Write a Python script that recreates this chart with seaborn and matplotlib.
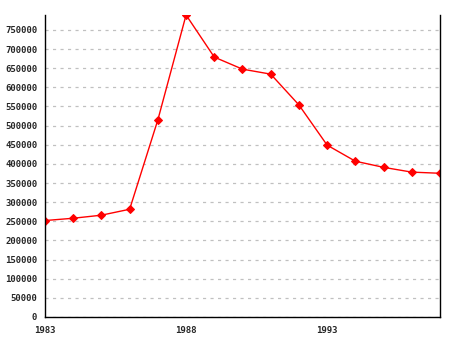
import matplotlib
matplotlib.use("Agg")
import matplotlib.pyplot as plt
import seaborn as sns
import pandas as pd

years = list(range(1983, 1998))
values = [252000, 258000, 266000, 281500, 515000, 789000, 679000, 647500,
          634500, 554000, 449000, 407000, 391000, 378500, 375500]
xticks = [1983, 1988, 1993]
yticks = list(range(0, 750001, 50000))

df = pd.DataFrame({"year": years, "value": values})

sns.set_style("white")
plt.rcParams['font.family'] = ['DejaVu Sans Mono', 'DejaVu Sans']

fig = plt.figure(figsize=(4.55, 3.40), dpi=100)
ax = fig.add_axes([45/455, 23/340, 395/455, 302/340])

sns.lineplot(data=df, x="year", y="value", ax=ax, color="red", linewidth=1,
             marker="D", markersize=4.5, markeredgecolor="red", markerfacecolor="red")

ax.set_xlim(1983, 1997)
ax.set_ylim(0, 789000)
ax.set_xticks(xticks)
ax.set_xticklabels([str(t) for t in xticks])
ax.set_yticks(yticks)
ax.set_yticklabels([str(t) for t in yticks])
ax.set_xlabel("")
ax.set_ylabel("")

ax.yaxis.grid(True, color="#c0c0c0", linestyle=(0, (2.5, 3.5)), linewidth=0.9)
ax.xaxis.grid(False)

for s in ["left", "bottom", "right"]:
    ax.spines[s].set_visible(True)
    ax.spines[s].set_color("black")
    ax.spines[s].set_linewidth(1)
ax.spines["top"].set_visible(False)

ax.tick_params(axis="both", direction="inout", length=7, width=1, color="black",
               labelsize=6.5, pad=2)
ax.tick_params(axis="x", pad=3)
for lab in ax.get_xticklabels() + ax.get_yticklabels():
    lab.set_fontweight("bold")

fig.savefig("out.png", dpi=100)
